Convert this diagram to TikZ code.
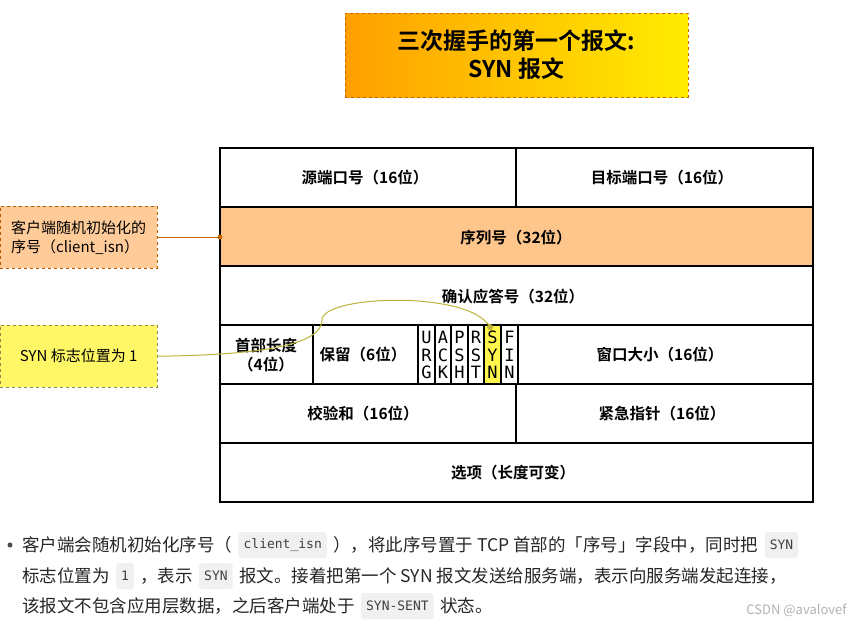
\documentclass[tikz,border=0pt]{standalone}
\usepackage{fontspec}
\setmainfont{Noto Sans CJK SC}[BoldFont={Noto Sans CJK SC Bold}]
\newfontfamily\monof{DejaVu Sans Mono}
\begin{document}
\begin{tikzpicture}[x=1pt,y=-1pt,
 lab/.style={font=\fontsize{15.5}{19}\selectfont\bfseries,align=center},
 flag/.style={font=\monof\fontsize{17}{17.5}\selectfont,align=center,inner sep=0},
 code/.style={fill=gray!12,rounded corners=3pt,font=\monof\fontsize{13}{14}\selectfont,inner sep=5pt,text=black!75,anchor=west,minimum height=26},
 txt/.style={font=\fontsize{17.5}{19}\selectfont,anchor=west,inner sep=0,text=black!85}]
\useasboundingbox (0,0) rectangle (853,625);
\fill[white] (0,0) rectangle (853,625);
% title
\node[draw=orange!80!black,dashed,line width=1pt,left color=orange!75!yellow,right color=yellow!85!orange,
 minimum width=343,minimum height=84,font=\fontsize{23}{28}\selectfont\bfseries,align=center] (title) at (516.5,55) {三次握手的第一个报文:\\SYN 报文};
% table
\fill[orange!45!white] (220,207) rectangle (813,266);
\fill[yellow!70] (484,325) rectangle (501,384);
\draw[line width=1.2pt] (220,148) rectangle (813,502);
\foreach \y in {207,266,325,384,443} \draw[line width=1.2pt] (220,\y)--(813,\y);
\draw[line width=1.2pt] (516,148)--(516,207) (516,384)--(516,443);
\foreach \x in {313,418,435,451,468,484,501,518} \draw[line width=1.2pt] (\x,325)--(\x,384);
\node[lab] (src) at (365,178) {源端口号（16位）};
\node[lab] (dst) at (662,178) {目标端口号（16位）};
\node[lab] (seq) at (516,238) {序列号（32位）};
\node[lab] (ack) at (513,297) {确认应答号（32位）};
\node[lab] (hl) at (266,355) {首部长度\\（4位）};
\node[lab] (res) at (363,355) {保留（6位）};
\node[lab] (win) at (660,355) {窗口大小（16位）};
\node[lab] (cks) at (363,414) {校验和（16位）};
\node[lab] (urg) at (662,414) {紧急指针（16位）};
\node[lab] (opt) at (513,473) {选项（长度可变）};
\foreach \n/\x/\t in {fu/426.5/U\\R\\G, fa/443/A\\C\\K, fp/459.5/P\\S\\H, fr/476/R\\S\\T, fs/492.5/S\\Y\\N, ff/509.5/F\\I\\N}
  \node[flag] (\n) at (\x,355) {\t};
% side notes
\node[draw=orange!70!black,dashed,fill=orange!40!white,minimum width=157,minimum height=62,anchor=north west,
 font=\fontsize{15}{19}\selectfont,align=left,inner sep=2pt] (n1) at (0,206) {客户端随机初始化的\\序号（client\_isn）};
\node[draw=yellow!50!black,dashed,fill=yellow!60,minimum width=157,minimum height=62,anchor=north west,
 font=\fontsize{15}{17}\selectfont] (n2) at (0,325) {SYN 标志位置为 1};
\coordinate (p1) at (220,237);
\coordinate (p2) at (490,327);
\draw[orange!80!black,line width=0.8pt] (n1.east|-p1) -- (p1);
\fill[orange!80!black] (p1) circle (2.5);
\draw[yellow!70!black,line width=1pt] (n2.east) .. controls (260,355) and (322,345) .. (322,320)
  .. controls (322,295) and (470,290) .. (p2);
\fill[yellow!70!black] (p2) circle (3);
% bottom text
\fill[black!70] (10,545) circle (2.5);
\node[txt] (l1a) at (22,545) {客户端会随机初始化序号（};
\node[code] (c1) at ([xshift=6]l1a.east) {client\_isn};
\node[txt] (l1b) at ([xshift=6]c1.east) {），将此序号置于 TCP 首部的「序号」字段中，同时把};
\node[code] (c2) at ([xshift=6]l1b.east) {SYN};
\node[txt] (l2a) at (22,576) {标志位置为};
\node[code] (c3) at ([xshift=6]l2a.east) {1};
\node[txt] (l2b) at ([xshift=6]c3.east) {，表示};
\node[code] (c4) at ([xshift=6]l2b.east) {SYN};
\node[txt] (l2c) at ([xshift=6]c4.east) {报文。接着把第一个 SYN 报文发送给服务端，表示向服务端发起连接，};
\node[txt] (l3a) at (22,606) {该报文不包含应用层数据，之后客户端处于};
\node[code] (c5) at ([xshift=6]l3a.east) {SYN-SENT};
\node[txt] (l3b) at ([xshift=6]c5.east) {状态。};
\node[font=\fontsize{13}{14}\selectfont,text=gray!60,anchor=east] (wm) at (850,610) {CSDN @avalovef};
\end{tikzpicture}
\end{document}
